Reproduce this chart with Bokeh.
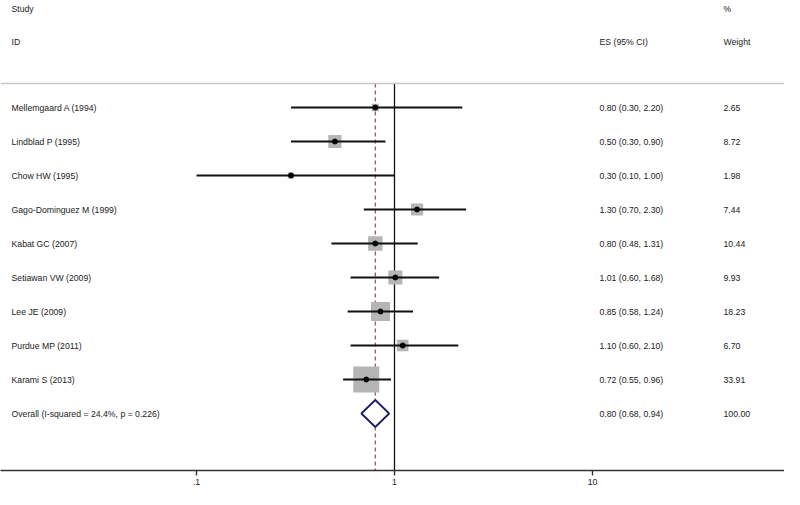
import numpy as np
from bokeh.plotting import figure
from bokeh.models import Range1d, FixedTicker, Span, ColumnDataSource, LinearScale
from bokeh.embed import file_html
from bokeh.resources import INLINE
from bokeh.core.properties import value

# ---------------- data ----------------
studies = ["Mellemgaard A (1994)", "Lindblad P (1995)", "Chow HW (1995)",
           "Gago-Dominguez M (1999)", "Kabat GC (2007)", "Setiawan VW (2009)",
           "Lee JE (2009)", "Purdue MP (2011)", "Karami S (2013)"]
es = [0.80, 0.50, 0.30, 1.30, 0.80, 1.01, 0.85, 1.10, 0.72]
ci_lo = [0.30, 0.30, 0.10, 0.70, 0.48, 0.60, 0.58, 0.60, 0.55]
ci_hi = [2.20, 0.90, 1.00, 2.30, 1.31, 1.68, 1.24, 2.10, 0.96]
weights = [2.65, 8.72, 1.98, 7.44, 10.44, 9.93, 18.23, 6.70, 33.91]

overall_label = "Overall  (I-squared = 24.4%, p = 0.226)"
overall_es = 0.80
overall_lo = 0.68
overall_hi = 0.94
overall_weight = 100.00

x_ticks = [0.1, 1, 10]
x_tick_labels = [".1", "1", "10"]
null_value = 1.0

header_left = ["Study", "ID"]
header_es = "ES (95% CI)"
header_w = ["%", "Weight"]

# ---------------- layout ----------------
FONT = value("Liberation Sans")
FS = "8.7px"
TXT_COLOR = "#222222"
FRAME_W, FRAME_H = 784, 470
ROW0, ROW_STEP = 107.0, 34.0


def row(py):
    return (py - ROW0) / ROW_STEP


y_top = row(0)
y_bot = row(FRAME_H)
x_start = 10 ** ((0 - 394) / 198.0)
x_end = 10 ** ((FRAME_W - 394) / 198.0)
SEP = row(83)

p = figure(frame_width=FRAME_W, frame_height=FRAME_H, x_axis_type="log",
           x_range=Range1d(x_start, x_end), y_range=Range1d(y_bot, y_top),
           output_backend="svg", toolbar_location=None, min_border=0,
           y_axis_location=None, outline_line_color=None,
           background_fill_color="white", border_fill_color="white")
p.grid.visible = False
p.extra_x_ranges = {"txt": Range1d(0, FRAME_W)}
p.extra_x_scales = {"txt": LinearScale()}

ax = p.xaxis[0]
ax.ticker = FixedTicker(ticks=x_ticks)
ax.major_label_overrides = {t: l for t, l in zip(x_ticks, x_tick_labels)}
ax.minor_tick_line_color = None
ax.axis_line_color = "#333333"
ax.axis_line_width = 1.6
ax.major_tick_line_color = "#333333"
ax.major_tick_line_width = 1.4
ax.major_tick_out = 5
ax.major_tick_in = 0
ax.major_label_standoff = 3
ax.major_label_text_font = "Liberation Sans"
ax.major_label_text_font_size = FS
ax.major_label_text_color = TXT_COLOR

n = len(studies)
rows = list(range(n))
BOX_K = 26.0 / np.sqrt(max(weights))
src = ColumnDataSource(dict(
    y=rows, es=es, lo=ci_lo, hi=ci_hi,
    size=[BOX_K * np.sqrt(w) for w in weights],
    label=studies,
    es_txt=[f"{e:.2f} ({l:.2f}, {h:.2f})" for e, l, h in zip(es, ci_lo, ci_hi)],
    w_txt=[f"{w:.2f}" for w in weights],
))

# separator
p.add_layout(Span(location=SEP, dimension="width", line_color="#c8c8c8", line_width=1.3))

# reference lines
p.segment(x0=[null_value], x1=[null_value], y0=[SEP], y1=[y_bot],
          line_color="#111111", line_width=1.3)
p.segment(x0=[overall_es], x1=[overall_es], y0=[SEP], y1=[y_bot],
          line_color="#a0555e", line_width=1.3, line_dash="4 3")

# boxes, CIs, points
p.scatter("es", "y", size="size", marker="square", fill_color="#b5b5b5",
          line_color=None, source=src)
p.segment(x0="lo", x1="hi", y0="y", y1="y", line_color="#111111",
          line_width=2, source=src)
p.scatter("es", "y", size=5, marker="circle", fill_color="black",
          line_color="black", source=src)

# overall diamond
r_ov = n
D = 13.5 / ROW_STEP
p.patch(x=[overall_lo, overall_es, overall_hi, overall_es],
        y=[r_ov, r_ov - D, r_ov, r_ov + D],
        fill_color="white", line_color="#1c1c6b", line_width=1.8)

# text columns
txt_kw = dict(x_range_name="txt", text_font=FONT, text_font_size=FS,
              text_baseline="middle", text_align="left", text_color=TXT_COLOR)
p.text(x=11, y="y", text="label", source=src, **txt_kw)
p.text(x=599, y="y", text="es_txt", source=src, **txt_kw)
p.text(x=723, y="y", text="w_txt", source=src, **txt_kw)
p.text(x=[11], y=[r_ov], text=[overall_label], **txt_kw)
p.text(x=[599], y=[r_ov],
       text=[f"{overall_es:.2f} ({overall_lo:.2f}, {overall_hi:.2f})"], **txt_kw)
p.text(x=[723], y=[r_ov], text=[f"{overall_weight:.2f}"], **txt_kw)

# headers
p.text(x=[11, 11], y=[row(8), row(41)], text=header_left, **txt_kw)
p.text(x=[599], y=[row(41)], text=[header_es], **txt_kw)
p.text(x=[723, 723], y=[row(8), row(41)], text=header_w, **txt_kw)

open("out.html", "w").write(file_html(p, INLINE))
